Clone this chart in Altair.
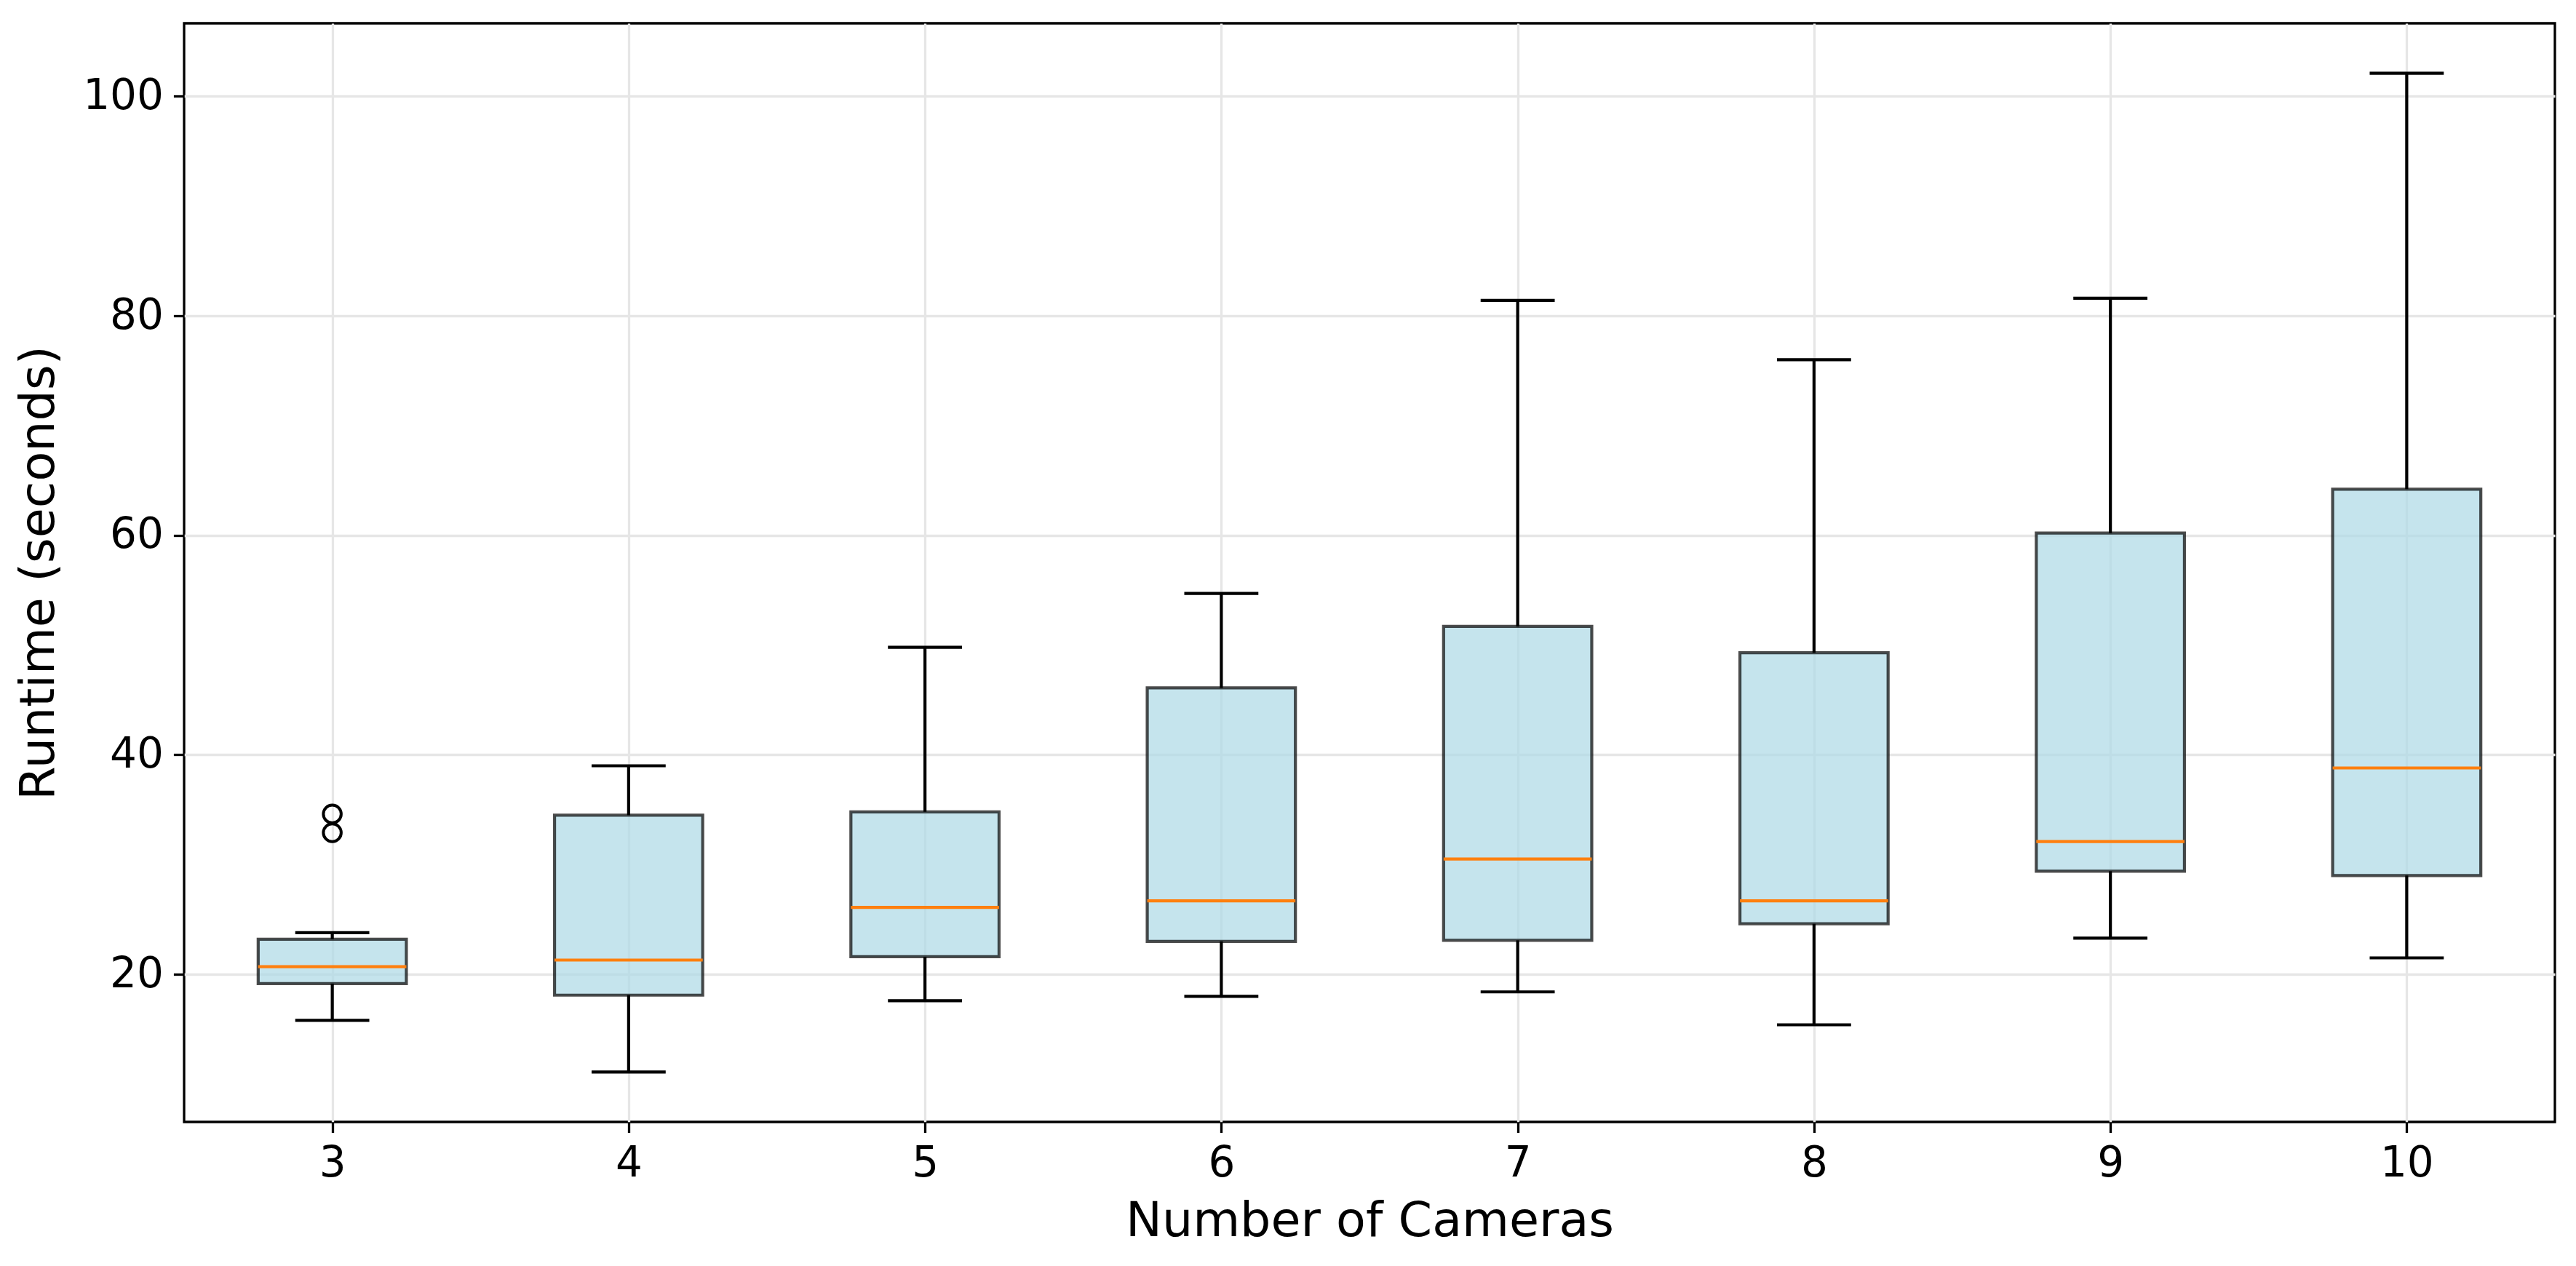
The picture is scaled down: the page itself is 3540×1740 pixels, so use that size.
import altair as alt
import pandas as pd

# ---- data ----
cameras = [3, 4, 5, 6, 7, 8, 9, 10]
whisker_low = [15.8, 11.1, 17.6, 18.0, 18.4, 15.4, 23.3, 21.5]
q1 = [19.15, 18.1, 21.6, 23.0, 23.1, 24.6, 29.4, 29.0]
median = [20.7, 21.3, 26.1, 26.7, 30.5, 26.7, 32.1, 38.8]
q3 = [23.2, 34.5, 34.8, 46.1, 51.7, 49.3, 60.2, 64.2]
whisker_high = [23.8, 39.0, 49.8, 54.7, 81.4, 76.0, 81.6, 102.1]
outlier_cameras = [3, 3]
outlier_values = [34.6, 32.9]

y_domain = [6.55, 106.65]
y_ticks = [20, 40, 60, 80, 100]

df = pd.DataFrame({
    "cam": cameras,
    "lo": whisker_low,
    "q1": q1,
    "med": median,
    "q3": q3,
    "hi": whisker_high,
})
out_df = pd.DataFrame({"cam": outlier_cameras, "val": outlier_values})

FONT = "DejaVu Sans"
LW = 4.2

xscale = alt.Scale(domain=[2.5, 10.5], nice=False, zero=False)
yscale = alt.Scale(domain=y_domain, nice=False, zero=False)

xaxis = alt.Axis(values=cameras, format="d", title="Number of Cameras", titlePadding=17)
yaxis = alt.Axis(values=y_ticks, format="d", title="Runtime (seconds)", titlePadding=26)

base = alt.Chart(df).transform_calculate(
    bl="datum.cam - 0.25", br="datum.cam + 0.25",
    cl="datum.cam - 0.125", cr="datum.cam + 0.125",
)

boxes = base.mark_rect(
    fill="#add8e6", fillOpacity=0.7, stroke="black", strokeOpacity=0.7, strokeWidth=LW
).encode(
    x=alt.X("bl:Q", scale=xscale, axis=xaxis),
    x2="br:Q",
    y=alt.Y("q1:Q", scale=yscale, axis=yaxis),
    y2="q3:Q",
)

med = base.mark_rule(color="#ff7f0e", strokeWidth=LW).encode(
    x=alt.X("bl:Q", scale=xscale), x2="br:Q", y=alt.Y("med:Q", scale=yscale)
)

wh_up = base.mark_rule(color="black", strokeWidth=LW).encode(
    x=alt.X("cam:Q", scale=xscale), y=alt.Y("q3:Q", scale=yscale), y2="hi:Q"
)
wh_lo = base.mark_rule(color="black", strokeWidth=LW).encode(
    x=alt.X("cam:Q", scale=xscale), y=alt.Y("lo:Q", scale=yscale), y2="q1:Q"
)
cap_hi = base.mark_rule(color="black", strokeWidth=LW).encode(
    x=alt.X("cl:Q", scale=xscale), x2="cr:Q", y=alt.Y("hi:Q", scale=yscale)
)
cap_lo = base.mark_rule(color="black", strokeWidth=LW).encode(
    x=alt.X("cl:Q", scale=xscale), x2="cr:Q", y=alt.Y("lo:Q", scale=yscale)
)

outl = alt.Chart(out_df).mark_point(
    shape="circle", filled=False, color="black", size=600, strokeWidth=4, opacity=1
).encode(
    x=alt.X("cam:Q", scale=xscale), y=alt.Y("val:Q", scale=yscale)
)

chart = alt.layer(boxes, wh_up, wh_lo, cap_hi, cap_lo, med, outl).properties(
    width=3258, height=1510,
    autosize=alt.AutoSizeParams(type="none"),
    padding={"left": 245, "top": 24, "right": 21, "bottom": 190},
    background="white",
).configure_view(
    stroke="black", strokeWidth=3.3
).configure_axis(
    domain=False,
    grid=True, gridColor="#e6e6e6", gridWidth=3.3,
    ticks=True, tickColor="black", tickWidth=3.3, tickSize=14.6,
    labelFont=FONT, labelFontSize=58, labelColor="black", labelPadding=14,
    titleFont=FONT, titleFontSize=66.7, titleColor="black", titleFontWeight="normal",
)

chart.save("out.html", embed_options={"renderer": "svg", "actions": False})
